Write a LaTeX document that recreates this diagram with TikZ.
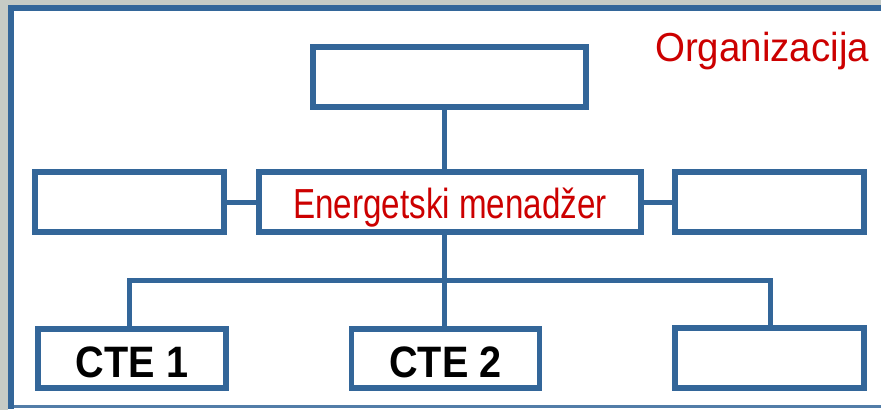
\documentclass[tikz,border=0pt]{standalone}
\usepackage{fontspec}
\setmainfont{Liberation Sans}
\definecolor{bggrey}{HTML}{C6CBC5}
\definecolor{boxblue}{HTML}{336699}
\definecolor{redc}{HTML}{CC0000}
\begin{document}
\begin{tikzpicture}[x=1pt,y=-1pt,
  box/.style={draw=boxblue, line width=5.5pt, fill=white, outer sep=0pt, inner sep=0pt,
    minimum height=60pt, line join=miter},
  conn/.style={draw=boxblue, line width=5pt, line join=miter},
  redtxt/.style={text=redc, font=\fontsize{42}{42}\selectfont},
  ctetxt/.style={text=black, font=\bfseries\fontsize{44}{44}\selectfont}]
\useasboundingbox (0,0) rectangle (881,410);
% background frame
\fill[bggrey] (0,0) rectangle (881,410);
\fill[white] (8,5) rectangle (881,410);
\fill[boxblue] (8,5) rectangle (14,409);
\fill[boxblue] (8,5) rectangle (881,11);
\fill[boxblue!85] (14,405) rectangle (881,408);
% title
\node[anchor=base west, inner sep=0pt, text=redc, font=\fontsize{40.5}{40.5}\selectfont]
  (org) at (655,61.5) {\scalebox{0.95}[1]{Organizacija}};
% boxes
\node[box, minimum width=273pt] (topbox) at (449.5,77) {};
\node[box, minimum width=382pt, text height=32pt, text depth=0pt, redtxt] (mid) at (450,202)
  {\scalebox{0.79}[1]{Energetski menadžer}};
\node[box, minimum width=189pt] (leftbox) at (129.5,202) {};
\node[box, minimum width=189pt] (rightbox) at (769.5,202) {};
\node[box, minimum width=188pt, minimum height=59pt, text height=37pt, text depth=0pt, ctetxt]
  (cte1) at (132,358.5) {\scalebox{0.9}[1]{CTE 1}};
\node[box, minimum width=188pt, minimum height=59pt, text height=37pt, text depth=0pt, ctetxt]
  (cte2) at (445.5,358.5) {\scalebox{0.9}[1]{CTE 2}};
\node[box, minimum width=189pt, minimum height=60pt] (blank3) at (769.5,358) {};
% connectors
\coordinate (spine) at (444.5,0);
\coordinate (b1) at (129.5,280.5);
\coordinate (b3) at (770,280.5);
\draw[conn] (topbox.south -| spine) -- (mid.north -| spine);
\draw[conn] (leftbox.east) -- (mid.west);
\draw[conn] (mid.east) -- (rightbox.west);
\draw[conn] (mid.south -| spine) -- (cte2.north -| spine);
\draw[conn] (cte1.north -| b1) -- (b1) -- (b3) -- (blank3.north -| b3);
\end{tikzpicture}
\end{document}
